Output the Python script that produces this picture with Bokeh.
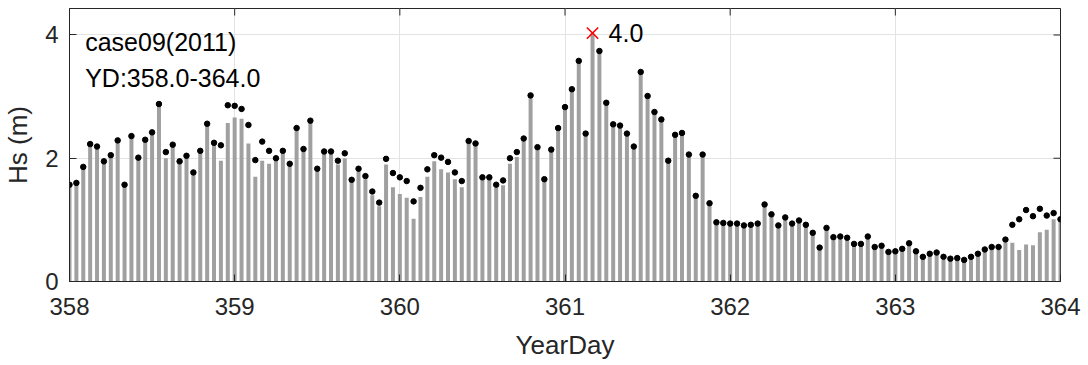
import numpy as np
from bokeh.plotting import figure
from bokeh.models import Range1d, Label, FixedTicker
from bokeh.core.properties import value
from bokeh.embed import file_html
from bokeh.resources import INLINE

# ---- data (hourly, YearDay 358.0 - 364.0) ----
start_day = 358.0
hs_dot = [1.57, 1.60, 1.86, 2.23, 2.19, 1.95, 2.05, 2.29, 1.57, 2.36,
          2.01, 2.30, 2.42, 2.88, 2.10, 2.22, 1.95, 2.04, 1.77, 2.12,
          2.56, 2.25, 2.21, 2.86, 2.85, 2.80, 2.54, 1.97, 2.27, 2.12,
          2.00, 2.12, 1.91, 2.49, 2.15, 2.61, 1.83, 2.11, 2.11, 1.96,
          2.08, 1.65, 1.83, 1.71, 1.46, 1.28, 1.99, 1.76, 1.69, 1.63,
          1.30, 1.52, 1.82, 2.05, 2.01, 1.94, 1.77, 1.63, 2.28, 2.24,
          1.69, 1.69, 1.57, 1.64, 2.00, 2.10, 2.32, 3.02, 2.18, 1.66,
          2.14, 2.49, 2.83, 3.12, 3.58, 2.40, 4.03, 3.74, 2.90, 2.55,
          2.53, 2.40, 2.19, 3.40, 3.01, 2.75, 2.63, 1.96, 2.38, 2.41,
          2.06, 1.39, 2.06, 1.27, 0.96, 0.95, 0.94, 0.94, 0.91, 0.92,
          0.94, 1.25, 1.09, 0.91, 1.04, 0.94, 0.99, 0.92, 0.79, 0.55,
          0.87, 0.72, 0.73, 0.71, 0.61, 0.61, 0.73, 0.56, 0.58, 0.48,
          0.49, 0.53, 0.62, 0.49, 0.40, 0.45, 0.47, 0.40, 0.37, 0.38,
          0.35, 0.40, 0.45, 0.52, 0.56, 0.56, 0.68, 0.92, 1.01, 1.16,
          1.06, 1.18, 1.07, 1.11, 1.01]
hs_bar = [1.57, 1.60, 1.86, 2.23, 2.19, 1.95, 2.05, 2.29, 1.57, 2.36,
          2.01, 2.30, 2.42, 2.88, 2.00, 2.22, 1.95, 2.04, 1.77, 2.12,
          2.56, 2.25, 1.96, 2.57, 2.66, 2.64, 2.24, 1.70, 1.96, 1.91,
          1.96, 2.12, 1.91, 2.49, 2.15, 2.61, 1.83, 2.11, 2.07, 1.90,
          2.00, 1.65, 1.79, 1.66, 1.40, 1.22, 1.90, 1.53, 1.42, 1.36,
          1.02, 1.37, 1.70, 1.95, 1.82, 1.77, 1.66, 1.53, 2.26, 2.22,
          1.66, 1.66, 1.52, 1.56, 1.91, 2.02, 2.32, 3.02, 2.15, 1.66,
          2.14, 2.49, 2.83, 3.12, 3.58, 2.40, 4.03, 3.74, 2.90, 2.55,
          2.53, 2.40, 2.19, 3.40, 3.01, 2.75, 2.63, 1.96, 2.38, 2.41,
          2.06, 1.39, 2.06, 1.27, 0.96, 0.95, 0.94, 0.94, 0.91, 0.92,
          0.94, 1.25, 1.09, 0.91, 1.04, 0.94, 0.99, 0.92, 0.79, 0.55,
          0.87, 0.72, 0.73, 0.71, 0.61, 0.61, 0.73, 0.56, 0.58, 0.47,
          0.47, 0.51, 0.58, 0.47, 0.37, 0.43, 0.44, 0.35, 0.33, 0.35,
          0.32, 0.36, 0.41, 0.48, 0.53, 0.51, 0.63, 0.63, 0.51, 0.60,
          0.59, 0.80, 0.84, 1.01, 1.01]
x_ticks = [358, 359, 360, 361, 362, 363, 364]
y_ticks = [0, 2, 4]
case_label = "case09(2011)"
range_label = "YD:358.0-364.0"
y_title = "Hs (m)"
x_title = "YearDay"

yearday = start_day + np.arange(len(hs_dot)) / 24.0
imax = int(np.argmax(hs_dot))
X0, X1, Y0, Y1 = 358, 364, 0, 4.43

FONT = "Liberation Sans"
TXT = "#262626"

p = figure(width=1088, height=365, output_backend="svg", toolbar_location=None,
           x_range=Range1d(X0, X1), y_range=Range1d(Y0, Y1),
           min_border_left=69, min_border_right=28, min_border_top=8,
           min_border_bottom=84)

p.vbar(x=yearday, width=0.58 / 24, top=hs_bar, bottom=0,
       fill_color="#a0a0a0", line_color=None)
mask = [i for i in range(len(hs_dot)) if i != imax]
p.scatter(x=yearday[mask], y=[hs_dot[i] for i in mask], size=5.5,
          fill_color="black", line_color="black")
p.scatter(x=[yearday[imax]], y=[hs_dot[imax]], marker="x", size=16,
          line_color="#ff0000", line_width=1.6)
p.text(x=[yearday[imax]], y=[hs_dot[imax]], text=[f"{hs_dot[imax]:.1f}"],
       x_offset=16, text_baseline="middle", text_align="left",
       text_font=value(FONT), text_font_size="25px", text_color="black")

p.add_layout(Label(x=358.095, y=3.89, text=case_label, text_font=FONT,
                   text_font_size="25px", text_baseline="middle", text_color="black"))
p.add_layout(Label(x=358.095, y=3.30, text=range_label, text_font=FONT,
                   text_font_size="25px", text_baseline="middle", text_color="black"))

# inward ticks on the top and right edges of the box (MATLAB style)
p.scatter(x=x_ticks, y=[Y1] * len(x_ticks), marker="dash", angle=np.pi / 2,
          size=14, line_color=TXT, line_width=1)
p.scatter(x=[X1] * len(y_ticks), y=y_ticks, marker="dash",
          size=14, line_color=TXT, line_width=1)

for ax in (p.xaxis[0], p.yaxis[0]):
    ax.major_label_text_font = FONT
    ax.major_label_text_font_size = "24px"
    ax.major_label_text_color = TXT
    ax.axis_label_text_font = FONT
    ax.axis_label_text_font_size = "26px"
    ax.axis_label_text_font_style = "normal"
    ax.axis_label_text_color = TXT
    ax.axis_line_color = TXT
    ax.major_tick_line_color = TXT
    ax.major_tick_in = 7
    ax.major_tick_out = 0
    ax.minor_tick_line_color = None

p.xaxis[0].ticker = FixedTicker(ticks=x_ticks)
p.yaxis[0].ticker = FixedTicker(ticks=y_ticks)
p.xaxis[0].axis_label = x_title
p.yaxis[0].axis_label = y_title
p.xaxis[0].major_label_standoff = 16
p.xaxis[0].axis_label_standoff = 12
p.yaxis[0].major_label_standoff = 11
p.yaxis[0].axis_label_standoff = 9
p.yaxis[0].major_label_orientation = "horizontal"

p.xgrid.ticker = FixedTicker(ticks=x_ticks)
p.ygrid.ticker = FixedTicker(ticks=y_ticks)
p.grid.grid_line_color = "#e3e3e3"
p.grid.grid_line_width = 1
p.outline_line_color = TXT
p.background_fill_color = "white"
p.border_fill_color = "white"

open("out.html", "w").write(file_html(p, INLINE))
